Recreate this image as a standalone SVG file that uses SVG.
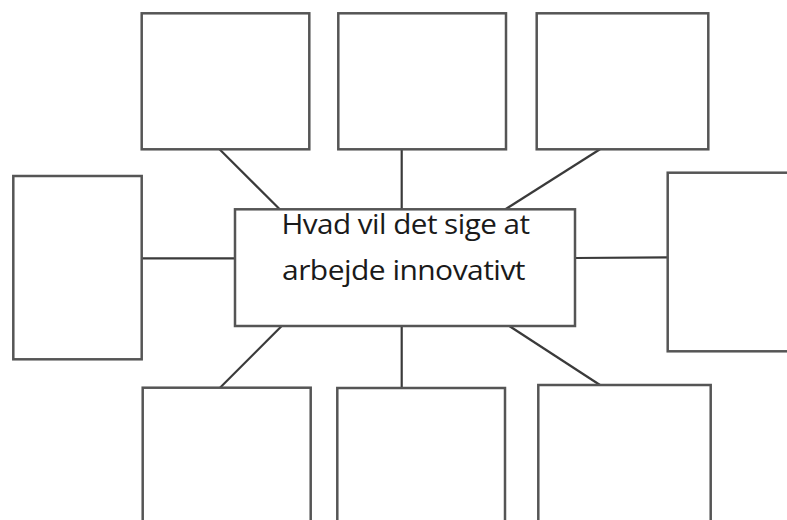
<svg xmlns="http://www.w3.org/2000/svg" width="787" height="520" viewBox="0 0 787 520">
<style>
.box{fill:#fff;stroke:#555;stroke-width:2.5}
.con line{stroke:#3a3a3a;stroke-width:2.2}
.lbl{font-family:"Open Sans","Noto Sans",sans-serif;font-size:28px;fill:#1a1a1a;text-anchor:middle;letter-spacing:-0.5px}
</style>
<rect width="787" height="520" fill="#fff"/>
<g class="con">
<line x1="219.5" y1="149.3" x2="280" y2="209.5"/>
<line x1="401.7" y1="149.3" x2="401.7" y2="209.5"/>
<line x1="600" y1="149.3" x2="505" y2="209.5"/>
<line x1="141.7" y1="258.3" x2="235" y2="258.3"/>
<line x1="575" y1="258" x2="667.7" y2="257.3"/>
<line x1="281.7" y1="326" x2="220" y2="387.7"/>
<line x1="401.7" y1="326" x2="401.7" y2="387.7"/>
<line x1="509.3" y1="326" x2="600" y2="385"/>
</g>
<g id="top-left"><rect class="box" x="141.7" y="13.3" width="167.6" height="136"/></g>
<g id="top-middle"><rect class="box" x="338.3" y="13.3" width="167.7" height="136"/></g>
<g id="top-right"><rect class="box" x="536.7" y="13.3" width="171.6" height="136"/></g>
<g id="left"><rect class="box" x="13.3" y="176" width="128.4" height="183.3"/></g>
<g id="right"><rect class="box" x="667.7" y="172.7" width="130" height="178.6"/></g>
<g id="bottom-left"><rect class="box" x="142.7" y="387.7" width="168" height="150"/></g>
<g id="bottom-middle"><rect class="box" x="337.3" y="388" width="167.7" height="150"/></g>
<g id="bottom-right"><rect class="box" x="538.3" y="385" width="172.4" height="150"/></g>
<g id="center">
<rect class="box" x="235" y="209.3" width="340" height="116.7"/>
<text class="lbl" x="405.5" y="233.5" textLength="248" lengthAdjust="spacingAndGlyphs">Hvad vil det sige at</text>
<text class="lbl" x="403.5" y="279.5" textLength="243" lengthAdjust="spacingAndGlyphs">arbejde innovativt</text>
</g>
</svg>
